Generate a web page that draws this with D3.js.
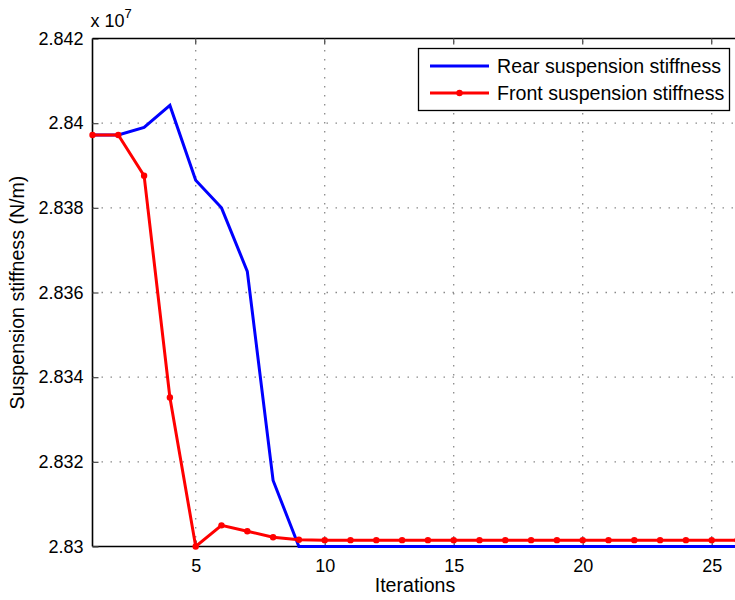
<!DOCTYPE html>
<html>
<head>
<meta charset="utf-8">
<script src="https://cdn.jsdelivr.net/npm/d3@7"></script>
<style>
  html, body { margin: 0; padding: 0; background: #fff; }
  svg { display: block; font-family: "Liberation Sans", Arial, sans-serif; }
</style>
</head>
<body>
<svg id="chart" width="735" height="600"></svg>
<script>
const iterations = d3.range(1, 27);
const rearStiffness = [2.83972, 2.83972, 2.83990, 2.84042, 2.83865, 2.83800, 2.83650, 2.83156, 2.83000,
  2.83000, 2.83000, 2.83000, 2.83000, 2.83000, 2.83000, 2.83000, 2.83000, 2.83000, 2.83000, 2.83000,
  2.83000, 2.83000, 2.83000, 2.83000, 2.83000, 2.83000];
const frontStiffness = [2.83972, 2.83972, 2.83876, 2.83352, 2.83000, 2.83050, 2.83036, 2.83022, 2.83016,
  2.83015, 2.83015, 2.83015, 2.83015, 2.83015, 2.83015, 2.83015, 2.83015, 2.83015, 2.83015, 2.83015,
  2.83015, 2.83015, 2.83015, 2.83015, 2.83015, 2.83015];
const xTicks = [5, 10, 15, 20, 25];
const yTicks = [2.83, 2.832, 2.834, 2.836, 2.838, 2.84, 2.842];
const yTickLabels = ["2.83", "2.832", "2.834", "2.836", "2.838", "2.84", "2.842"];
const seriesNames = ["Rear suspension stiffness", "Front suspension stiffness"];
const seriesColors = ["#0000ff", "#ff0000"];

const svg = d3.select("#chart");
const L = 92.5, R = 737.5, T = 38.5, B = 546.5;
const x = d3.scaleLinear().domain([1, 26]).range([L, R]);
const y = d3.scaleLinear().domain([2.83, 2.842]).range([B, T]);

// grid
const grid = svg.append("g").attr("stroke", "#8a8a8a").attr("stroke-width", 1.3)
  .attr("stroke-dasharray", "1.5,7.5").attr("fill", "none");
xTicks.forEach(t => grid.append("line").attr("x1", x(t)).attr("x2", x(t)).attr("y1", B).attr("y2", T));
yTicks.slice(1, -1).forEach(t => grid.append("line").attr("x1", L).attr("x2", R).attr("y1", y(t)).attr("y2", y(t)));

// axes
const fs = 18, fsL = 19.6;
const xAxis = d3.axisBottom(x).tickValues(xTicks).tickSize(-6).tickPadding(13).tickFormat(d3.format("d"));
const gx = svg.append("g").attr("transform", `translate(0,${B})`).call(xAxis);
const yAxis = d3.axisLeft(y).tickValues(yTicks).tickSize(-6).tickPadding(9)
  .tickFormat((d, i) => yTickLabels[i]);
const gy = svg.append("g").attr("transform", `translate(${L},0)`).call(yAxis);
[gx, gy].forEach(g => {
  g.select(".domain").attr("stroke", "#000").attr("stroke-width", 1.6);
  g.selectAll(".tick line").attr("stroke", "#555").attr("stroke-width", 1.3);
  g.selectAll(".tick text").attr("font-size", fs).attr("fill", "#000")
    .attr("font-family", "'Liberation Sans', Arial, sans-serif");
});
gx.select(".domain").attr("d", `M${L},0H${R}`);
gy.select(".domain").attr("d", `M0,${B}V${T}`);
// top axis
svg.append("line").attr("x1", L).attr("x2", R).attr("y1", T).attr("y2", T)
  .attr("stroke", "#000").attr("stroke-width", 1.6);
xTicks.forEach(t => svg.append("line").attr("x1", x(t)).attr("x2", x(t)).attr("y1", T).attr("y2", T + 6)
  .attr("stroke", "#555").attr("stroke-width", 1.3));

// exponent label
const ex = svg.append("text").attr("x", L - 2).attr("y", 27).attr("font-size", fs).attr("fill", "#000");
ex.append("tspan").text("x 10");
ex.append("tspan").attr("dy", -9).attr("font-size", 13).text("7");

// lines
const line = d3.line().x((d, i) => x(iterations[i])).y(d => y(d));
svg.append("path").datum(rearStiffness).attr("d", line).attr("fill", "none")
  .attr("stroke", seriesColors[0]).attr("stroke-width", 3).attr("stroke-linejoin", "miter");
svg.append("path").datum(frontStiffness).attr("d", line).attr("fill", "none")
  .attr("stroke", seriesColors[1]).attr("stroke-width", 3).attr("stroke-linejoin", "miter");
svg.append("g").selectAll("circle").data(frontStiffness).join("circle")
  .attr("cx", (d, i) => x(iterations[i])).attr("cy", d => y(d)).attr("r", 3.2).attr("fill", seriesColors[1]);

// axis titles
svg.append("text").attr("x", (L + R) / 2).attr("y", 592).attr("text-anchor", "middle")
  .attr("font-size", fsL).attr("fill", "#000").text("Iterations");
svg.append("text").attr("transform", `translate(24,${(T + B) / 2}) rotate(-90)`).attr("text-anchor", "middle")
  .attr("font-size", fsL).attr("fill", "#000").text("Suspension stiffness (N/m)");

// legend
const lg = svg.append("g");
lg.append("rect").attr("x", 418.5).attr("y", 48.5).attr("width", 311).attr("height", 62)
  .attr("fill", "#fff").attr("stroke", "#000").attr("stroke-width", 1.3);
seriesNames.forEach((name, i) => {
  const yy = 66 + i * 27;
  lg.append("line").attr("x1", 430).attr("x2", 489).attr("y1", yy).attr("y2", yy)
    .attr("stroke", seriesColors[i]).attr("stroke-width", 3);
  if (i === 1) lg.append("circle").attr("cx", 459.5).attr("cy", yy).attr("r", 3.2).attr("fill", seriesColors[i]);
  lg.append("text").attr("x", 497).attr("y", yy + 6.5).attr("font-size", fsL).attr("fill", "#000").text(name);
});
</script>
</body>
</html>
